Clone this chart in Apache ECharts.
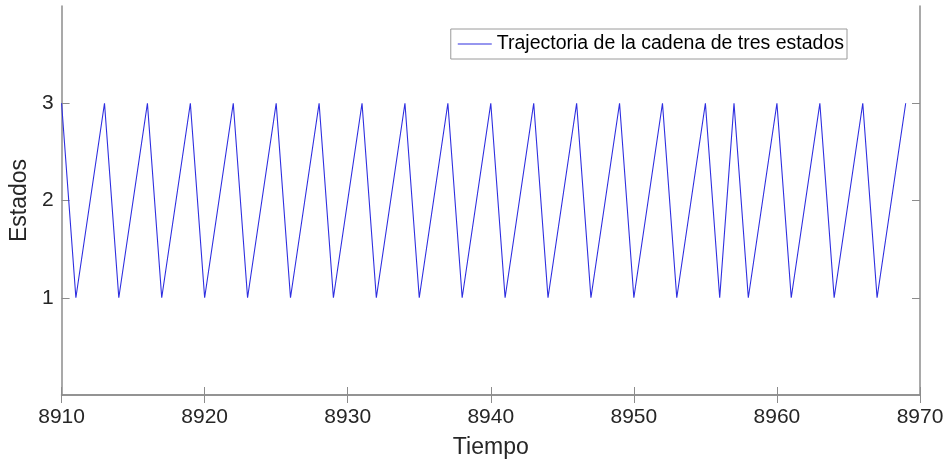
<!DOCTYPE html>
<html>
<head>
<meta charset="utf-8">
<script src="https://cdn.jsdelivr.net/npm/echarts@6/dist/echarts.min.js"></script>
<style>
html,body{margin:0;padding:0;background:#fff;}
#chart{width:948px;height:466px;}
</style>
</head>
<body>
<div id="chart"></div>
<script>
var times = [8910,8911,8912,8913,8914,8915,8916,8917,8918,8919,
             8920,8921,8922,8923,8924,8925,8926,8927,8928,8929,
             8930,8931,8932,8933,8934,8935,8936,8937,8938,8939,
             8940,8941,8942,8943,8944,8945,8946,8947,8948,8949,
             8950,8951,8952,8953,8954,8955,8956,8957,8958,8959,
             8960,8961,8962,8963,8964,8965,8966,8967,8968,8969];
var states = [3,1,2,3,1,2,3,1,2,3,
              1,2,3,1,2,3,1,2,3,1,
              2,3,1,2,3,1,2,3,1,2,
              3,1,2,3,1,2,3,1,2,3,
              1,2,3,1,2,3,1,3,1,2,
              3,1,2,3,1,2,3,1,2,3];
var yTickValues = [1,2,3];
var seriesName = 'Trajectoria de la cadena de tres estados';
var xLabel = 'Tiempo';
var yLabel = 'Estados';

var FONT = '"Liberation Sans", Arial, sans-serif';
var AX = '#8c8c8c';
var TXT = '#262626';
var LINE = '#2e2ee0';

var chart = echarts.init(document.getElementById('chart'));
var data = times.map(function(t,i){ return [t, states[i]]; });

chart.setOption({
  animation: false,
  backgroundColor: '#ffffff',
  grid: {left: 58, right: 28, top: 6, bottom: 71, containLabel: false},
  legend: {
    show: true,
    right: 101, top: 29,
    itemWidth: 34, itemHeight: 14, itemGap: 4,
    padding: [5, 3, 5, 7],
    borderColor: '#9a9a9a', borderWidth: 1,
    backgroundColor: '#ffffff',
    textStyle: {fontFamily: FONT, fontSize: 19.5, color: '#000'},
    data: [{name: seriesName, icon: 'path://M0,0L34,0L34,1L0,1Z', itemStyle: {color: LINE}}]
  },
  xAxis: [{
    type: 'value', min: 8910, max: 8970, interval: 10,
    position: 'bottom',
    name: xLabel, nameLocation: 'middle', nameGap: 41,
    nameTextStyle: {fontFamily: FONT, fontSize: 23, color: TXT},
    axisLine: {show: true, lineStyle: {color: AX, width: 1.5}},
    axisTick: {show: true, inside: true, length: 8, lineStyle: {color: AX, width: 1}},
    axisLabel: {fontFamily: FONT, fontSize: 21, color: TXT, margin: 12, showMinLabel: true, showMaxLabel: true,
      formatter: function(v){ return String(v); }},
    splitLine: {show: false}
  }, {
    type: 'value', min: 8910, max: 8970, interval: 10,
    position: 'top',
    axisLine: {show: true, lineStyle: {color: AX, width: 1.5}},
    axisTick: {show: true, inside: true, length: 8, lineStyle: {color: AX, width: 1}},
    axisLabel: {show: false},
    splitLine: {show: false}
  }],
  yAxis: [{
    type: 'value', min: 0, max: 4, interval: 1,
    position: 'left',
    name: yLabel, nameLocation: 'middle', nameGap: 23,
    nameTextStyle: {fontFamily: FONT, fontSize: 23, color: TXT},
    axisLine: {show: true, lineStyle: {color: AX, width: 1.5}},
    axisTick: {show: true, inside: true, length: 8, lineStyle: {color: AX, width: 1}, customValues: yTickValues},
    axisLabel: {fontFamily: FONT, fontSize: 21, color: TXT, margin: 8, customValues: yTickValues},
    splitLine: {show: false}
  }, {
    type: 'value', min: 0, max: 4, interval: 1,
    position: 'right',
    axisLine: {show: true, lineStyle: {color: AX, width: 1.5}},
    axisTick: {show: true, inside: true, length: 8, lineStyle: {color: AX, width: 1}, customValues: yTickValues},
    axisLabel: {show: false},
    splitLine: {show: false}
  }],
  series: [{
    name: seriesName,
    type: 'line',
    xAxisIndex: 0, yAxisIndex: 0,
    data: data,
    showSymbol: false,
    symbol: 'none',
    lineStyle: {color: LINE, width: 1.1},
    itemStyle: {color: LINE}
  }]
});
</script>
</body>
</html>
